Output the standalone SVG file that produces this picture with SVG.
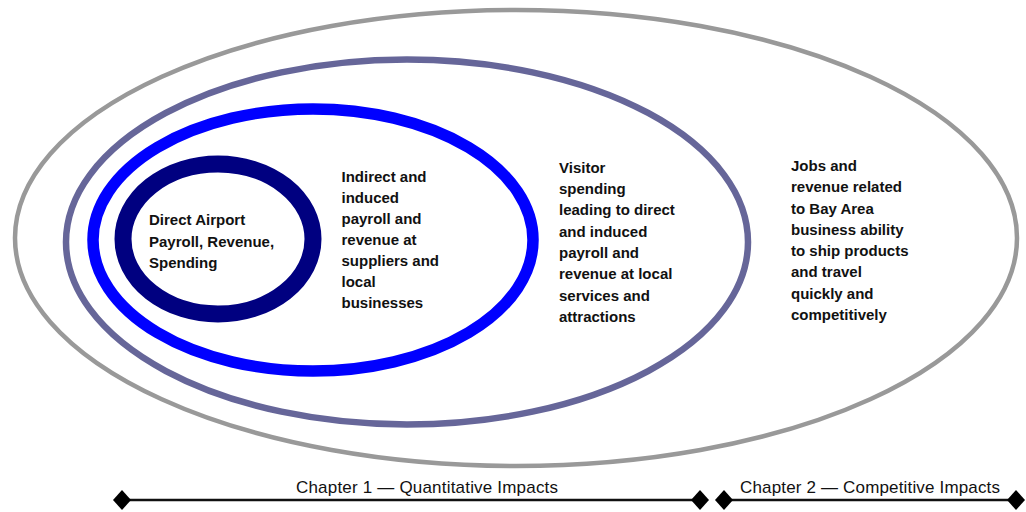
<svg xmlns="http://www.w3.org/2000/svg" width="1026" height="512" viewBox="0 0 1026 512">
<style>
.t{font-family:"Liberation Sans",Arial,sans-serif;font-weight:bold;font-size:15px;fill:#111}
.c{font-family:"Liberation Sans",Arial,sans-serif;font-size:17px;fill:#111}
.ln{stroke:#111;stroke-width:2.5}
.dm{fill:#000}
</style>
<rect width="1026" height="512" fill="#fff"/>
<g id="ring-outer"><ellipse cx="516" cy="238" rx="501" ry="228" fill="none" stroke="#999999" stroke-width="4.5"/>
<text class="t"><tspan x="791" y="171">Jobs and</tspan><tspan x="791" y="192.3">revenue related</tspan><tspan x="791" y="213.5">to Bay Area</tspan><tspan x="791" y="234.7">business ability</tspan><tspan x="791" y="256">to ship products</tspan><tspan x="791" y="277.3">and travel</tspan><tspan x="791" y="298.6">quickly and</tspan><tspan x="791" y="319.8">competitively</tspan></text></g>
<g id="ring-visitor"><ellipse cx="407" cy="242" rx="341" ry="182.5" fill="none" stroke="#666699" stroke-width="6.5"/>
<text class="t"><tspan x="559" y="172.7">Visitor</tspan><tspan x="559" y="194">spending</tspan><tspan x="559" y="215.3">leading to direct</tspan><tspan x="559" y="236.6">and induced</tspan><tspan x="559" y="257.9">payroll and</tspan><tspan x="559" y="279.2">revenue at local</tspan><tspan x="559" y="300.5">services and</tspan><tspan x="559" y="321.8">attractions</tspan></text></g>
<g id="ring-indirect"><ellipse cx="313" cy="240" rx="220" ry="131" fill="none" stroke="#0000FF" stroke-width="11.5"/>
<text class="t"><tspan x="341.5" y="181.7">Indirect and</tspan><tspan x="341.5" y="202.8">induced</tspan><tspan x="341.5" y="223.9">payroll and</tspan><tspan x="341.5" y="245">revenue at</tspan><tspan x="341.5" y="266.1">suppliers and</tspan><tspan x="341.5" y="287.2">local</tspan><tspan x="341.5" y="308.3">businesses</tspan></text></g>
<g id="ring-direct"><ellipse cx="218" cy="239" rx="95" ry="75" fill="none" stroke="#000080" stroke-width="17"/>
<text class="t"><tspan x="149" y="225">Direct Airport</tspan><tspan x="149" y="246.5">Payroll, Revenue,</tspan><tspan x="149" y="268">Spending</tspan></text></g>
<g id="connectors">
<line class="ln" x1="122" y1="500" x2="700" y2="500"/>
<line class="ln" x1="724" y1="500" x2="1016" y2="500"/>
<path class="dm" d="M122 490 L131 500 L122 510 L113 500 Z"/>
<path class="dm" d="M700 490 L709 500 L700 510 L691 500 Z"/>
<path class="dm" d="M724 490 L733 500 L724 510 L715 500 Z"/>
<path class="dm" d="M1016 490 L1025 500 L1016 510 L1007 500 Z"/>
</g>
<g id="chapter-1"><text class="c" x="427" y="493" text-anchor="middle" textLength="262">Chapter 1 — Quantitative Impacts</text></g>
<g id="chapter-2"><text class="c" x="870" y="493" text-anchor="middle" textLength="260">Chapter 2 — Competitive Impacts</text></g>
</svg>
